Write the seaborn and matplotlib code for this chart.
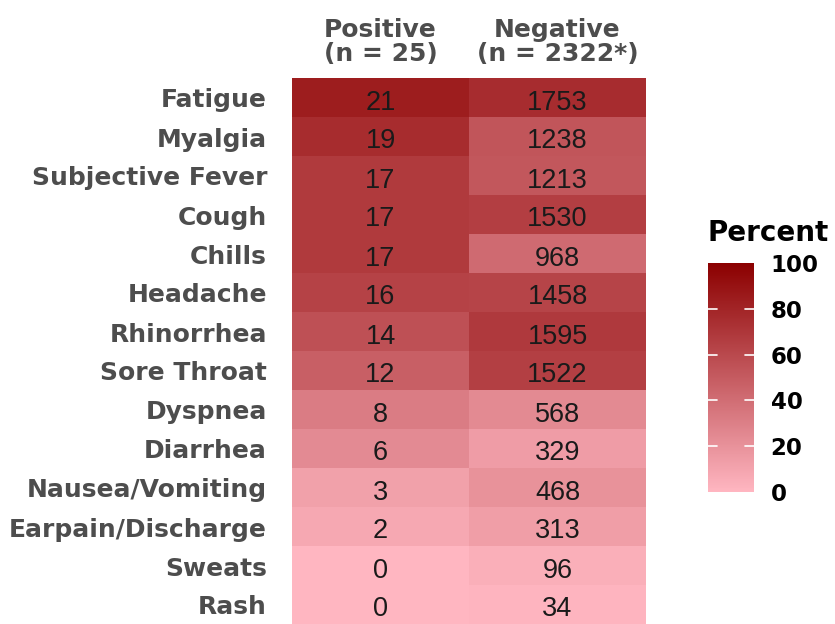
import numpy as np
import pandas as pd
import matplotlib
matplotlib.use("Agg")
import matplotlib.pyplot as plt
import matplotlib.transforms as mtransforms
from matplotlib.colors import LinearSegmentedColormap
import seaborn as sns

symptoms = ["Fatigue", "Myalgia", "Subjective Fever", "Cough", "Chills", "Headache",
            "Rhinorrhea", "Sore Throat", "Dyspnea", "Diarrhea", "Nausea/Vomiting",
            "Earpain/Discharge", "Sweats", "Rash"]
positive = [21, 19, 17, 17, 17, 16, 14, 12, 8, 6, 3, 2, 0, 0]
negative = [1753, 1238, 1213, 1530, 968, 1458, 1595, 1522, 568, 329, 468, 313, 96, 34]
n_pos = 25
n_neg = 2322
col_labels = ["Positive\n(n = 25)", "Negative\n(n = 2322*)"]

counts = pd.DataFrame({col_labels[0]: positive, col_labels[1]: negative}, index=symptoms)
pct = pd.DataFrame({col_labels[0]: np.array(positive) / n_pos * 100,
                    col_labels[1]: np.array(negative) / n_neg * 100}, index=symptoms)

cmap = LinearSegmentedColormap.from_list("pinkred", ["#FFB6C1", "#8B0000"])

sns.set_style("white")
plt.rcParams['font.family'] = ['Liberation Sans', 'DejaVu Sans']

fig = plt.figure(figsize=(8.35, 6.24), dpi=100)
ax = fig.add_axes([292/835, 0.0, 354/835, 1 - 78/624])
cax = fig.add_axes([708/835, 1 - 492/624, 46/835, 229/624])

sns.heatmap(pct, ax=ax, cmap=cmap, vmin=0, vmax=100, annot=counts, fmt="d",
            annot_kws={"fontsize": 19.5, "color": "#1a1a1a"}, cbar_ax=cax,
            cbar_kws={"ticks": [0, 20, 40, 60, 80, 100]}, linewidths=0)

# nudge annotation text slightly down (ggplot-like vertical placement)
down = mtransforms.ScaledTranslation(0, -5/100, fig.dpi_scale_trans)
for t in ax.texts:
    t.set_transform(t.get_transform() + down)

lab_font = dict(family="DejaVu Sans", fontsize=18, fontweight="bold", color="#4D4D4D")
ax.xaxis.tick_top()
ax.set_xticklabels(col_labels, linespacing=0.95, **lab_font)
ax.set_yticklabels(symptoms, rotation=0, **lab_font)
ax.tick_params(axis="y", length=0, pad=18)
ax.tick_params(axis="x", length=0, pad=9)
ax.set_xlabel("")
ax.set_ylabel("")
down2 = mtransforms.ScaledTranslation(0, -3/100, fig.dpi_scale_trans)
for lab in ax.get_yticklabels():
    lab.set_transform(lab.get_transform() + down2)

cax.tick_params(length=0, pad=12)
cax.set_yticks([0, 20, 40, 60, 80, 100])
cax.set_yticklabels(["0", "20", "40", "60", "80", "100"], family="DejaVu Sans",
                    fontsize=16.5, fontweight="bold", color="black")
for v in [20, 40, 60, 80]:
    cax.plot([0, 0.2], [v, v], color="white", lw=1.2, transform=cax.get_yaxis_transform())
    cax.plot([0.8, 1.0], [v, v], color="white", lw=1.2, transform=cax.get_yaxis_transform())
for s in cax.spines.values():
    s.set_visible(False)
fig.text(707/835, 1 - 233/624, "Percent", family="DejaVu Sans", fontsize=20,
         fontweight="bold", color="black", va="center", ha="left")

fig.savefig("out.png", dpi=100)
